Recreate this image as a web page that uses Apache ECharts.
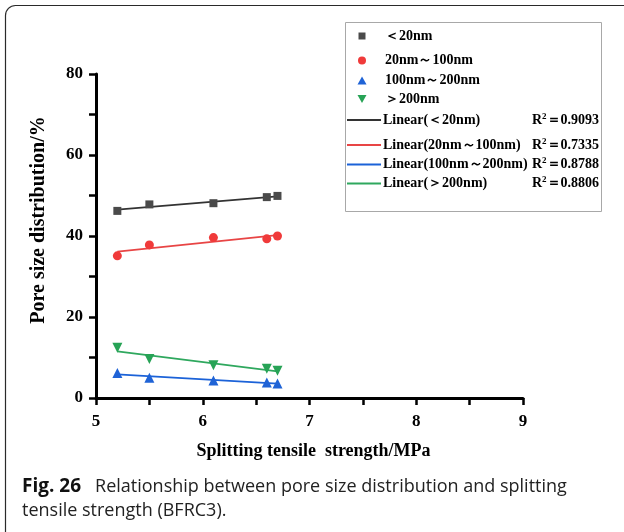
<!DOCTYPE html>
<html>
<head>
<meta charset="utf-8">
<script src="https://cdn.jsdelivr.net/npm/echarts@6/dist/echarts.min.js"></script>
<style>
  html, body { margin: 0; padding: 0; background: #fff; }
  #chart { width: 624px; height: 532px; }
</style>
</head>
<body>
<div id="chart"></div>
<script>
// Splitting tensile strength (MPa) of the BFRC3 specimens
const strength = [5.2, 5.5, 6.1, 6.6, 6.7];

// Pore size distribution (%) by pore size class
const poreLt20 = [46.2, 47.8, 48.1, 49.6, 49.9];
const pore20to100 = [35.1, 37.8, 39.6, 39.3, 40.0];
const pore100to200 = [6.2, 5.0, 4.3, 3.8, 3.6];
const poreGt200 = [12.4, 9.6, 8.1, 7.2, 6.7];

const seriesNames = ['＜20nm', '20nm～100nm', '100nm～200nm', '＞200nm'];
const fitNames = ['Linear(＜20nm)', 'Linear(20nm～100nm)', 'Linear(100nm～200nm)', 'Linear(＞200nm)'];
const rSquared = ['0.9093', '0.7335', '0.8788', '0.8806'];

const xTicks = [5, 6, 7, 8, 9];
const yTicks = [0, 20, 40, 60, 80];

const markerColors = ['#4a4a4a', '#f03a3a', '#1f63d6', '#27a356'];
const lineColors = ['#333333', '#e84545', '#1b62d8', '#2fa85e'];
const symbols = ['rect', 'circle', 'triangle', 'path://M0,0 L10,0 L5,9 Z'];
const symbolSizes = [8, 9, 10, 10];

const groups = [poreLt20, pore20to100, pore100to200, poreGt200];

// least-squares straight line through one group
function linearFit(xs, ys) {
  const n = xs.length;
  const mx = xs.reduce((a, b) => a + b, 0) / n;
  const my = ys.reduce((a, b) => a + b, 0) / n;
  let sxy = 0, sxx = 0;
  for (let i = 0; i < n; i++) {
    sxy += (xs[i] - mx) * (ys[i] - my);
    sxx += (xs[i] - mx) * (xs[i] - mx);
  }
  const slope = sxy / sxx;
  const icpt = my - slope * mx;
  const x0 = Math.min(...xs), x1 = Math.max(...xs);
  return [[x0, icpt + slope * x0], [x1, icpt + slope * x1]];
}

const serif = '"Liberation Serif", "Times New Roman", serif';
const sans = '"Open Sans", "Noto Sans", sans-serif';
const series = [];
groups.forEach((ys, i) => {
  series.push({
    name: fitNames[i],
    type: 'line',
    data: linearFit(strength, ys),
    showSymbol: false,
    silent: true,
    lineStyle: { color: lineColors[i], width: 1.8 },
    z: 2
  });
});
groups.forEach((ys, i) => {
  series.push({
    name: seriesNames[i],
    type: 'scatter',
    data: strength.map((x, k) => [x, ys[k]]),
    symbol: symbols[i],
    symbolSize: symbolSizes[i],
    itemStyle: { color: markerColors[i], opacity: 1 },
    z: 3
  });
});

// legend block: markers, fit lines and R² notes
const legendRows = [36, 60.5, 80.5, 99, 120, 145, 164.5, 183.5];
const legendGraphics = [
  { type: 'rect', shape: { x: 345.5, y: 22.5, width: 256, height: 189 },
    style: { fill: '#fff', stroke: '#a8a8a8', lineWidth: 1 } }
];
const mx = 362;
const mk = [
  { type: 'rect', shape: { x: mx - 3.5, y: legendRows[0] - 3.5, width: 7, height: 7 } },
  { type: 'circle', shape: { cx: mx, cy: legendRows[1], r: 4 } },
  { type: 'polygon', shape: { points: [[mx - 4.5, legendRows[2] + 4], [mx + 4.5, legendRows[2] + 4], [mx, legendRows[2] - 4]] } },
  { type: 'polygon', shape: { points: [[mx - 4.5, legendRows[3] - 4], [mx + 4.5, legendRows[3] - 4], [mx, legendRows[3] + 4]] } }
];
mk.forEach((m, i) => {
  m.style = { fill: markerColors[i] };
  legendGraphics.push(m);
  legendGraphics.push({
    type: 'text', x: 385, y: legendRows[i],
    style: { text: seriesNames[i], font: 'bold 14px ' + serif, fill: '#000', verticalAlign: 'middle' }
  });
});
fitNames.forEach((nm, i) => {
  const y = legendRows[4 + i];
  legendGraphics.push({
    type: 'line', shape: { x1: 347, y1: y, x2: 381, y2: y },
    style: { stroke: lineColors[i], lineWidth: 2 }
  });
  legendGraphics.push({
    type: 'text', x: 383, y: y,
    style: { text: nm, font: 'bold 14px ' + serif, fill: '#000', verticalAlign: 'middle' }
  });
  legendGraphics.push({
    type: 'text', x: 599, y: y,
    style: {
      text: '{r|R}{s|2}{r|＝' + rSquared[i] + '}',
      align: 'right', verticalAlign: 'middle',
      rich: {
        r: { font: 'bold 14px ' + serif, fill: '#000' },
        s: { font: 'bold 9px ' + serif, fill: '#000', verticalAlign: 'top', padding: [0, 0, 7, 0] }
      }
    }
  });
});

const axisText = { fontFamily: serif, fontWeight: 'bold', fontSize: 17, color: '#000' };
const chart = echarts.init(document.getElementById('chart'), null, { renderer: 'canvas' });
chart.setOption({
  backgroundColor: '#ffffff',
  animation: false,
  grid: { left: 96, right: 101, top: 74, bottom: 134, containLabel: false },
  xAxis: {
    type: 'value', min: xTicks[0], max: xTicks[xTicks.length - 1], interval: 1,
    name: 'Splitting tensile  strength/MPa',
    nameLocation: 'middle', nameGap: 44,
    nameTextStyle: { fontFamily: serif, fontWeight: 'bold', fontSize: 18, color: '#000', padding: [0, 0, 0, 8] },
    axisLine: { show: true, onZero: false, lineStyle: { color: '#000', width: 3 } },
    axisTick: { show: true, inside: false, length: 7, lineStyle: { color: '#000', width: 2.5 } },
    minorTick: { show: true, splitNumber: 2, length: 7, lineStyle: { color: '#000', width: 2.5 } },
    axisLabel: Object.assign({ margin: 15, formatter: v => xTicks.includes(v) ? String(v) : '' }, axisText),
    splitLine: { show: false }
  },
  yAxis: {
    type: 'value', min: yTicks[0], max: yTicks[yTicks.length - 1], interval: 20,
    name: 'Pore size distribution/%',
    nameLocation: 'middle', nameGap: 47, nameRotate: 90,
    nameTextStyle: { fontFamily: serif, fontWeight: 'bold', fontSize: 20, color: '#000', padding: [0, 0, 0, 32] },
    axisLine: { show: true, onZero: false, lineStyle: { color: '#000', width: 3 } },
    axisTick: { show: true, inside: false, length: 7, lineStyle: { color: '#000', width: 2.5 } },
    minorTick: { show: true, splitNumber: 2, length: 7, lineStyle: { color: '#000', width: 2.5 } },
    axisLabel: Object.assign({ margin: 13, formatter: v => yTicks.includes(v) ? String(v) : '' }, axisText),
    splitLine: { show: false }
  },
  series: series,
  graphic: [
    { type: 'rect', shape: { x: 5.5, y: 5.5, width: 630, height: 540, r: 10 },
      style: { fill: 'none', stroke: '#2a2a2a', lineWidth: 1.2 }, z: 0, silent: true },
    { type: 'group', children: legendGraphics, z: 10 },
    { type: 'text', left: 22, top: 475, z: 10,
      style: {
        text: '{b|Fig. 26}{n|Relationship between pore size distribution and splitting}\n{n|tensile strength (BFRC3).}',
        lineHeight: 24,
        rich: {
          b: { fontFamily: sans, fontWeight: 'bold', fontSize: 19, fill: '#111', lineHeight: 24, padding: [0, 14, 0, 0] },
          n: { fontFamily: sans, fontSize: 18, fill: '#222', lineHeight: 24 }
        }
      } }
  ]
});
</script>
</body>
</html>
